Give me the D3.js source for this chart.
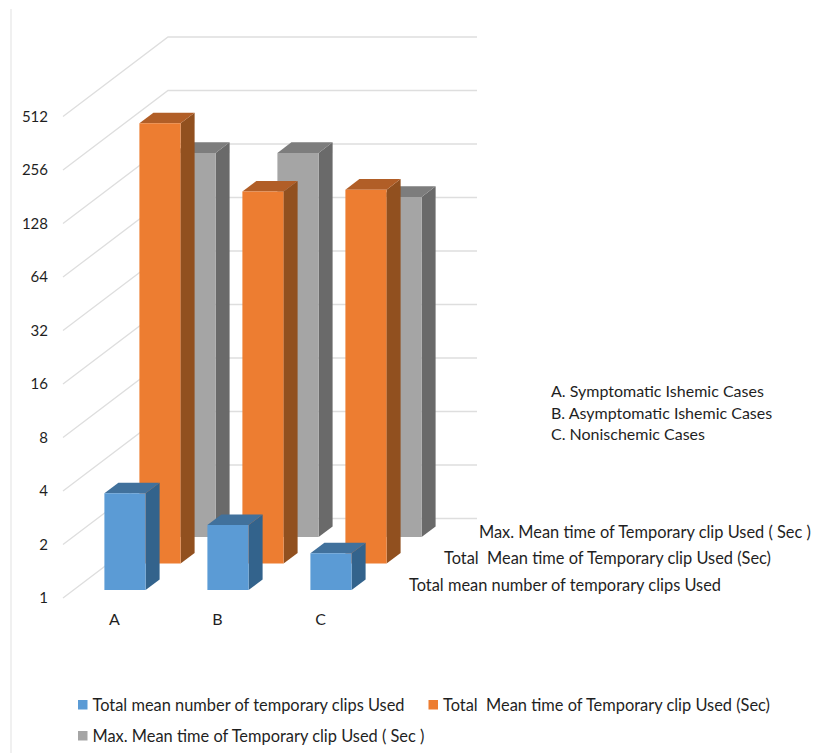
<!DOCTYPE html>
<html>
<head>
<meta charset="utf-8">
<script src="https://cdn.jsdelivr.net/npm/d3@7"></script>
<style>
html, body { margin: 0; padding: 0; background: #fff; }
svg { display: block; }
text { font-family: Lato, "Open Sans", sans-serif; fill: #1f1f1f; }
</style>
</head>
<body>
<svg id="chart" width="823" height="753"></svg>
<script>
// Chart values
const categories = ["A", "B", "C"];
const seriesNames = [
  "Total mean number of temporary clips Used",
  "Total  Mean time of Temporary clip Used (Sec)",
  "Max. Mean time of Temporary clip Used ( Sec )"
];
const meanClips = [3.5, 2.32, 1.61];
const meanTime = [300, 124, 127];
const maxTime = [145, 145, 82];
const yTicks = [1, 2, 4, 8, 16, 32, 64, 128, 256, 512];
const notes = [
  "A. Symptomatic Ishemic Cases",
  "B. Asymptomatic Ishemic Cases",
  "C. Nonischemic Cases"
];
const seriesValues = [meanClips, meanTime, maxTime];
const faceColors = [
  { front: "#5b9bd5", top: "#41719c", side: "#33638c" },
  { front: "#ed7d31", top: "#b15e27", side: "#91501f" },
  { front: "#a5a5a5", top: "#7d7d7d", side: "#6a6a6a" }
];

const svg = d3.select("#chart");
const tickSize = 15;
const categorySize = 16;
const labelSize = 16.4;
const noteSize = 16;

// Oblique projection: depth 0 is the front of the floor, depth 1 the back wall.
const depthDX = 105, depthDY = -79.5;
const x = d3.scaleBand().domain(categories).range([63, 372]).paddingInner(0).paddingOuter(0);
const y = d3.scaleLog().base(2).domain([1, 512]).range([598, 116.5]);
const depth = d3.scaleBand().domain(d3.range(seriesNames.length)).range([0, 1]);
const project = (px, py, d) => [px + depthDX * d, py + depthDY * d];
const poly = pts => pts.map(p => p.join(",")).join(" ");

// Chart area edge
svg.append("line")
  .attr("x1", 11).attr("x2", 11).attr("y1", 9).attr("y2", 753)
  .attr("stroke", "#e6e6e6").attr("stroke-width", 1.2);

// Gridlines across the side wall and back wall
const gridColor = "#dedede";
const grid = svg.append("g").attr("fill", "none")
  .attr("stroke", gridColor).attr("stroke-width", 1.3);
grid.selectAll("polyline").data(yTicks).join("polyline")
  .attr("points", t => {
    const a = project(x.range()[0], y(t), 0);
    const b = project(x.range()[0], y(t), 1);
    const c = project(x.range()[1], y(t), 1);
    return poly([a, b, c]);
  });

// Bars are painted from the back row forward so nearer ones overlap
const barW = x.bandwidth() * 0.4;
const barInset = (x.bandwidth() - barW) / 2;
const barDepth = depth.bandwidth() * 0.4;
const barDepthInset = (depth.bandwidth() - barDepth) / 2;

const rows = d3.range(seriesNames.length).reverse();
rows.forEach(s => {
  const g = svg.append("g");
  const colors = faceColors[s];
  const d0 = depth(s) + barDepthInset;
  const d1 = d0 + barDepth;
  categories.forEach((c, i) => {
    const x0 = x(c) + barInset, x1 = x0 + barW;
    const top = y(seriesValues[s][i]), base = y(1);
    g.append("polygon").attr("fill", colors.side).attr("points", poly([
      project(x1, top, d0), project(x1, top, d1),
      project(x1, base, d1), project(x1, base, d0)
    ]));
    g.append("polygon").attr("fill", colors.top).attr("points", poly([
      project(x0, top, d0), project(x1, top, d0),
      project(x1, top, d1), project(x0, top, d1)
    ]));
    g.append("polygon").attr("fill", colors.front).attr("points", poly([
      project(x0, top, d0), project(x1, top, d0),
      project(x1, base, d0), project(x0, base, d0)
    ]));
  });
});

// Value axis
const yAxis = svg.append("g").attr("transform", "translate(63,0)")
  .call(d3.axisLeft(y).tickValues(yTicks).tickFormat(d3.format("d")).tickSize(0).tickPadding(15));
yAxis.select(".domain").remove();
yAxis.selectAll(".tick text").attr("font-size", tickSize);

// Category axis
const xAxis = svg.append("g").attr("transform", "translate(0,598)")
  .call(d3.axisBottom(x).tickSize(0).tickPadding(16));
xAxis.select(".domain").remove();
xAxis.selectAll(".tick text").attr("font-size", categorySize);
svg.selectAll(".tick text")
  .style("font-family", "Lato, 'Open Sans', sans-serif").attr("fill", "#1f1f1f");

// Row names at the right end of each depth row
svg.append("g").selectAll("text").data(seriesNames).join("text")
  .attr("font-size", labelSize)
  .attr("dominant-baseline", "middle")
  .style("white-space", "pre")
  .attr("x", (n, s) => project(x.range()[1] + 19.5, 0, depth(s) + depth.bandwidth() / 2)[0])
  .attr("y", (n, s) => project(0, y(1), depth(s) + depth.bandwidth() / 2)[1] + 2)
  .text(n => n);

// Case key
svg.append("g").selectAll("text").data(notes).join("text")
  .attr("font-size", noteSize)
  .attr("dominant-baseline", "middle")
  .attr("x", 551)
  .attr("y", (n, i) => 393 + i * 21.5)
  .text(n => n);

// Legend
const legendPos = [[78, 705], [428.5, 705], [78, 736]];
const legend = svg.append("g").selectAll("g").data(seriesNames).join("g")
  .attr("transform", (n, s) => `translate(${legendPos[s][0]},${legendPos[s][1]})`);
legend.append("rect")
  .attr("x", 0).attr("y", -5).attr("width", 9.5).attr("height", 9.5)
  .attr("fill", (n, s) => faceColors[s].front);
legend.append("text")
  .attr("font-size", labelSize)
  .attr("dominant-baseline", "middle")
  .style("white-space", "pre")
  .attr("x", 14.5).attr("y", 1.5)
  .text(n => n);
</script>
</body>
</html>
